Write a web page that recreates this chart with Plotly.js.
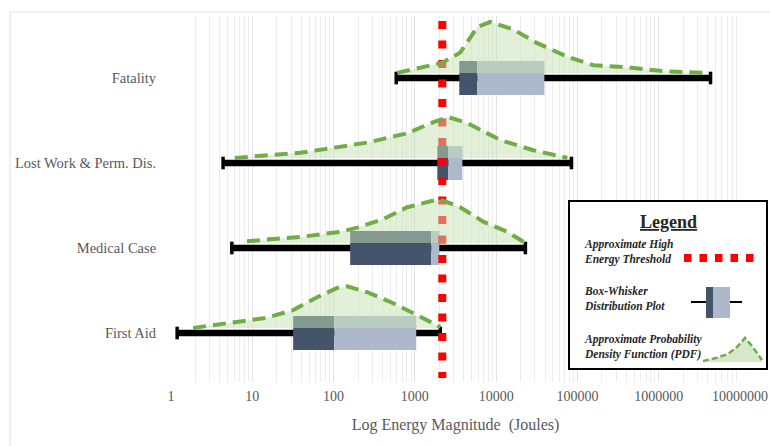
<!DOCTYPE html>
<html><head><meta charset="utf-8">
<script src="https://cdn.plot.ly/plotly-3.0.1.min.js"></script>
<style>html,body{margin:0;padding:0;background:#fff}#chart{width:770px;height:446px}</style>
</head><body><div id="chart"></div>
<script>
// ---------------- DATA ----------------
const categories = ['First Aid', 'Medical Case', 'Lost Work & Perm. Dis.', 'Fatality'];
const positions = [0, 1, 2, 3];
const whiskerLow  = [1.19, 5.6, 4.37, 590];
const whiskerHigh = [2055, 22900, 84400, 4340000];
const q1     = [31.8, 160, 1890, 3520];
const median = [102, 1590, 2580, 5870];
const q3     = [1040, 2000, 3840, 39200];
const threshold = 2175;

const tickVals = [1, 10, 100, 1000, 10000, 100000, 1000000, 10000000];
const tickText = ['1', '10', '100', '1000', '10000', '100000', '1000000', '10000000'];

// approximate PDF curves: energy (J) and relative density height
const pdfFirstAidX = [1.87, 5.8, 15.2, 31.8, 62.8, 111, 147, 259, 542, 1070, 2055];
const pdfFirstAidH = [0, 0.06, 0.12, 0.21, 0.36, 0.47, 0.49, 0.42, 0.29, 0.15, 0.01];
const pdfMedicalX  = [8.6, 38.8, 121, 195, 408, 806, 1550, 2055, 3620, 6950, 13700, 22900];
const pdfMedicalH  = [0.02, 0.07, 0.13, 0.18, 0.28, 0.42, 0.49, 0.51, 0.42, 0.25, 0.13, 0];
const pdfLostX     = [6.1, 38.8, 259, 806, 1690, 2580, 4420, 11300, 28700, 75300];
const pdfLostH     = [0, 0.06, 0.18, 0.29, 0.42, 0.48, 0.41, 0.21, 0.09, 0];
const pdfFatalX    = [607, 1270, 2175, 3620, 5870, 8480, 16300, 32100, 75300, 157000, 369000, 1150000, 3770000];
const pdfFatalH    = [0, 0.07, 0.12, 0.24, 0.54, 0.60, 0.51, 0.35, 0.19, 0.09, 0.07, 0.02, 0];
const pdfX = [pdfFirstAidX, pdfMedicalX, pdfLostX, pdfFatalX];
const pdfH = [pdfFirstAidH, pdfMedicalH, pdfLostH, pdfFatalH];

// ---------------- STYLE / LAYOUT HELPERS ----------------
const W = 770, H = 446;
const L = 171, R = 740, T = 16, B = 382;
const PX_PER_CAT = 85, CAT0_PX = 333;
const yBottom = -(B - CAT0_PX) / PX_PER_CAT;
const yTop = 3 + (CAT0_PX - 3 * PX_PER_CAT - T) / PX_PER_CAT;
const X = px => (px - L) / (R - L);
const Y = py => (B - py) / (B - T);
const pyToY = py => (CAT0_PX - py) / PX_PER_CAT;
const pdfBaseOffset = 0.06;
const font = '"Liberation Serif", "Times New Roman", serif';
const DARK = '#44546a', LIGHT = '#adb9ca', GREEN = '#70ad47', FILL = 'rgba(197,224,180,0.5)';

const traces = [];
// whiskers (as thin bars so boxes draw over them)
traces.push({
  type: 'bar', orientation: 'h', y: positions, base: whiskerLow,
  x: whiskerHigh.map((v, i) => v - whiskerLow[i]), width: 0.075,
  marker: {color: '#000000', line: {width: 0}}, hoverinfo: 'skip'
});
traces.push({
  type: 'bar', orientation: 'h', y: positions, base: q1,
  x: median.map((v, i) => v - q1[i]), width: 0.4,
  marker: {color: DARK, line: {width: 0}}, hoverinfo: 'skip'
});
traces.push({
  type: 'bar', orientation: 'h', y: positions, base: median,
  x: q3.map((v, i) => v - median[i]), width: 0.4,
  marker: {color: LIGHT, line: {width: 0}}, hoverinfo: 'skip'
});
// whisker end caps
traces.push({
  type: 'scatter', mode: 'markers',
  x: whiskerLow.concat(whiskerHigh), y: positions.concat(positions),
  marker: {symbol: 'line-ns', size: 9, line: {width: 3.5, color: '#000'}}, hoverinfo: 'skip'
});
// threshold line
traces.push({
  type: 'scatter', mode: 'lines', x: [threshold, threshold], y: [pyToY(21), pyToY(378)],
  line: {color: '#ff0000', width: 8, dash: '8px,11.5px'}, hoverinfo: 'skip'
});
// PDF curves
positions.forEach((p, i) => {
  const xs = pdfX[i], hs = pdfH[i];
  const base = p + pdfBaseOffset;
  traces.push({
    type: 'scatter', mode: 'lines', x: [xs[0], xs[xs.length - 1]], y: [base, base],
    line: {width: 0, color: 'rgba(0,0,0,0)'}, hoverinfo: 'skip'
  });
  traces.push({
    type: 'scatter', mode: 'lines', x: xs, y: hs.map(h => base + h),
    fill: 'tonexty', fillcolor: FILL,
    line: {color: GREEN, width: 4, dash: '13px,7px'}, hoverinfo: 'skip'
  });
});

// minor gridlines (2..9 per decade)
const minorVals = [];
for (let e = 0; e < 7; e++) for (let d = 2; d <= 9; d++) minorVals.push(d * Math.pow(10, e));

const shapes = [];
// cover gridlines above the drawn grid area
shapes.push({type: 'rect', xref: 'paper', yref: 'paper', x0: -0.002, x1: 1.002, y0: Y(30), y1: 1.0,
  fillcolor: '#ffffff', line: {width: 0}, layer: 'between'});
// outer chart border (top, left)
shapes.push({type: 'line', xref: 'paper', yref: 'paper', x0: X(10), x1: X(770), y0: Y(12), y1: Y(12),
  line: {color: '#e0e0e0', width: 1}, layer: 'below'});
shapes.push({type: 'line', xref: 'paper', yref: 'paper', x0: X(10), x1: X(10), y0: Y(12), y1: Y(446),
  line: {color: '#e0e0e0', width: 1}, layer: 'below'});
// legend box
shapes.push({type: 'rect', xref: 'paper', yref: 'paper', x0: X(569), x1: X(767), y0: Y(369), y1: Y(201),
  fillcolor: '#ffffff', line: {color: '#000000', width: 2}, layer: 'above'});
// legend: threshold sample
shapes.push({type: 'line', xref: 'paper', yref: 'paper', x0: X(684), x1: X(756), y0: Y(258), y1: Y(258),
  line: {color: '#ff0000', width: 8, dash: '7.5px,8px'}, layer: 'above'});
// legend: box-whisker sample
shapes.push({type: 'line', xref: 'paper', yref: 'paper', x0: X(691), x1: X(742), y0: Y(302), y1: Y(302),
  line: {color: '#000000', width: 2}, layer: 'above'});
shapes.push({type: 'rect', xref: 'paper', yref: 'paper', x0: X(706), x1: X(713), y0: Y(318), y1: Y(287),
  fillcolor: DARK, line: {width: 0}, layer: 'above'});
shapes.push({type: 'rect', xref: 'paper', yref: 'paper', x0: X(713), x1: X(730), y0: Y(318), y1: Y(287),
  fillcolor: LIGHT, line: {width: 0}, layer: 'above'});
// legend: pdf sample
const iconPts = [[703, 361], [716, 358], [728, 354], [737, 347], [745, 338], [752, 346], [762, 360]];
const iconLine = iconPts.map((p, k) => (k ? 'L' : 'M') + X(p[0]) + ',' + Y(p[1])).join(' ');
shapes.push({type: 'path', xref: 'paper', yref: 'paper',
  path: iconLine + ' L' + X(762) + ',' + Y(362) + ' L' + X(703) + ',' + Y(362) + ' Z',
  fillcolor: 'rgb(214,232,202)', line: {width: 0}, layer: 'above'});
shapes.push({type: 'path', xref: 'paper', yref: 'paper', path: iconLine,
  line: {color: GREEN, width: 2.5, dash: '6px,3px'}, layer: 'above'});

const legFont = {family: font, size: 11.5, color: '#262626'};
const annotations = [
  {xref: 'paper', yref: 'paper', x: X(668), y: Y(222), text: '<b><u>Legend</u></b>', showarrow: false,
    xanchor: 'center', yanchor: 'middle', font: {family: font, size: 18, color: '#262626'}},
  {xref: 'paper', yref: 'paper', x: X(582), y: Y(252), text: '<b><i>Approximate High<br>Energy Threshold</i></b>',
    showarrow: false, xanchor: 'left', yanchor: 'middle', align: 'left', font: legFont},
  {xref: 'paper', yref: 'paper', x: X(582), y: Y(298), text: '<b><i>Box-Whisker<br>Distribution Plot</i></b>',
    showarrow: false, xanchor: 'left', yanchor: 'middle', align: 'left', font: legFont},
  {xref: 'paper', yref: 'paper', x: X(582), y: Y(347), text: '<b><i>Approximate Probability<br>Density Function (PDF)</i></b>',
    showarrow: false, xanchor: 'left', yanchor: 'middle', align: 'left', font: legFont}
];

const layout = {
  width: W, height: H,
  margin: {l: L, r: W - R, t: T, b: H - B, pad: 0},
  paper_bgcolor: '#ffffff', plot_bgcolor: '#ffffff',
  showlegend: false, barmode: 'overlay',
  xaxis: {
    type: 'log', range: [0, 7], tickmode: 'array', tickvals: tickVals, ticktext: tickText,
    showgrid: true, gridcolor: '#e2e2e2', gridwidth: 1, zeroline: false, showline: false,
    ticks: 'outside', ticklen: 1, tickcolor: 'rgba(0,0,0,0)',
    tickfont: {family: font, size: 14, color: '#595959'},
    minor: {tickmode: 'array', tickvals: minorVals, showgrid: true, gridcolor: '#ededed', gridwidth: 1, ticks: ''},
    title: {text: 'Log Energy Magnitude\u00a0 (Joules)', standoff: 16, font: {family: font, size: 16, color: '#595959'}},
    fixedrange: true
  },
  yaxis: {
    range: [yBottom, yTop], tickmode: 'array', tickvals: positions, ticktext: categories,
    showgrid: false, zeroline: false, showline: false,
    ticks: 'outside', ticklen: 11, tickcolor: 'rgba(0,0,0,0)',
    tickfont: {family: font, size: 14.5, color: '#595959'}, fixedrange: true
  },
  shapes: shapes,
  annotations: annotations
};

Plotly.newPlot('chart', traces, layout, {displayModeBar: false, staticPlot: true});
</script>
</body></html>
